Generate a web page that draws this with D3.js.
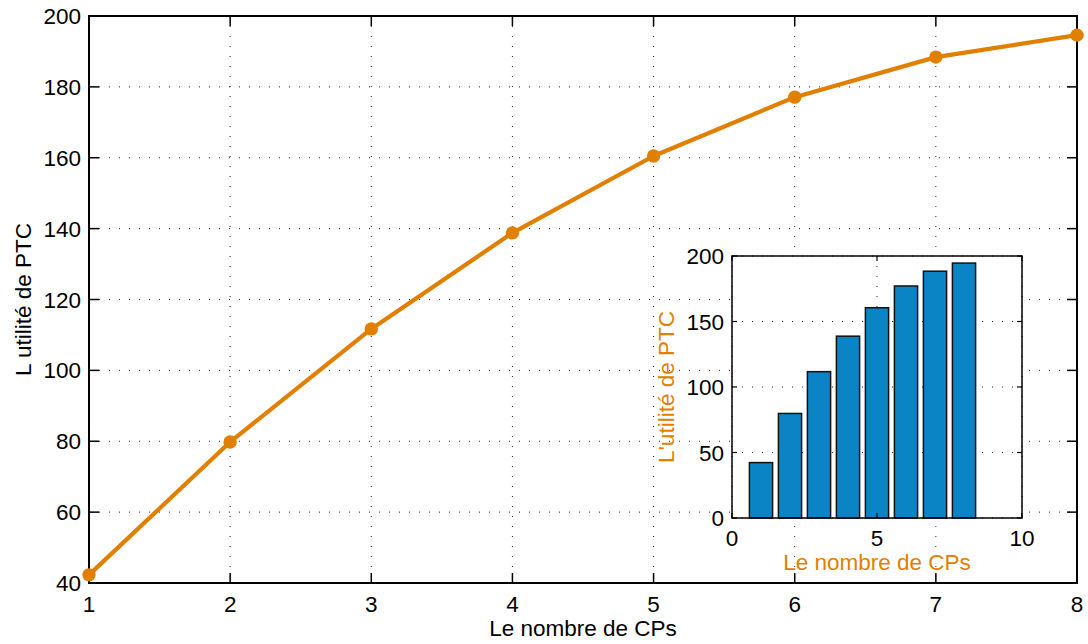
<!DOCTYPE html>
<html>
<head>
<meta charset="utf-8">
<script src="https://cdn.jsdelivr.net/npm/d3@7"></script>
<style>
  html, body { margin: 0; padding: 0; background: #fff; }
  svg text { font-family: "Liberation Sans", Arial, Helvetica, sans-serif; }
</style>
</head>
<body>
<svg id="chart" width="1088" height="644"></svg>
<script>
// Number of CPs and the resulting PTC utility
const cps = [1, 2, 3, 4, 5, 6, 7, 8];
const utility = [42.3, 79.8, 111.7, 138.8, 160.5, 177.1, 188.4, 194.6];

// Tick values
const mainXTicks = [1, 2, 3, 4, 5, 6, 7, 8];
const mainYTicks = [40, 60, 80, 100, 120, 140, 160, 180, 200];
const insetXTicks = [0, 5, 10];
const insetYTicks = [0, 50, 100, 150, 200];

// Labels
const xLabel = "Le nombre de CPs";
const yLabelMain = "L utilité de PTC";
const yLabelInset = "L'utilité de PTC";

const orange = "#e17f00";
const blue = "#0b84c6";
const fontSize = 22.5;

const svg = d3.select("#chart");

// ---------- main axes ----------
const M = { left: 89, right: 1077, top: 16, bottom: 583 };
const x = d3.scaleLinear().domain([1, 8]).range([M.left, M.right]);
const y = d3.scaleLinear().domain([40, 200]).range([M.bottom, M.top]);

const main = svg.append("g");

// dotted grid
main.append("g").selectAll("line").data(mainXTicks).join("line")
  .attr("x1", d => x(d)).attr("x2", d => x(d))
  .attr("y1", M.top).attr("y2", M.bottom)
  .attr("stroke", "#222").attr("stroke-width", 1).attr("stroke-dasharray", "1,9");
main.append("g").selectAll("line").data(mainYTicks).join("line")
  .attr("x1", M.left).attr("x2", M.right)
  .attr("y1", d => y(d)).attr("y2", d => y(d))
  .attr("stroke", "#222").attr("stroke-width", 1).attr("stroke-dasharray", "1,9");

// inward ticks on all four sides
const tl = 10;
const tk = main.append("g").attr("stroke", "#000").attr("stroke-width", 1.5);
mainXTicks.forEach(d => {
  tk.append("line").attr("x1", x(d)).attr("x2", x(d)).attr("y1", M.bottom).attr("y2", M.bottom - tl);
  tk.append("line").attr("x1", x(d)).attr("x2", x(d)).attr("y1", M.top).attr("y2", M.top + tl);
});
mainYTicks.forEach(d => {
  tk.append("line").attr("x1", M.left).attr("x2", M.left + tl).attr("y1", y(d)).attr("y2", y(d));
  tk.append("line").attr("x1", M.right).attr("x2", M.right - tl).attr("y1", y(d)).attr("y2", y(d));
});

// frame
main.append("rect")
  .attr("x", M.left).attr("y", M.top)
  .attr("width", M.right - M.left).attr("height", M.bottom - M.top)
  .attr("fill", "none").attr("stroke", "#000").attr("stroke-width", 2);

// tick labels
main.append("g").selectAll("text").data(mainXTicks).join("text")
  .attr("x", d => x(d)).attr("y", M.bottom + 29)
  .attr("text-anchor", "middle").attr("font-size", fontSize).attr("fill", "#000")
  .text(d => d);
main.append("g").selectAll("text").data(mainYTicks).join("text")
  .attr("x", M.left - 8).attr("y", d => y(d) + 8)
  .attr("text-anchor", "end").attr("font-size", fontSize).attr("fill", "#000")
  .text(d => d);

// axis titles
main.append("text")
  .attr("x", (M.left + M.right) / 2).attr("y", M.bottom + 53)
  .attr("text-anchor", "middle").attr("font-size", fontSize).attr("fill", "#000")
  .text(xLabel);
main.append("text")
  .attr("transform", `translate(${31},${(M.top + M.bottom) / 2}) rotate(-90)`)
  .attr("text-anchor", "middle").attr("font-size", fontSize).attr("fill", "#000")
  .text(yLabelMain);

// line with markers
const pts = cps.map((c, i) => [c, utility[i]]);
main.append("path")
  .datum(pts)
  .attr("d", d3.line().x(d => x(d[0])).y(d => y(d[1])))
  .attr("fill", "none").attr("stroke", orange).attr("stroke-width", 4.2)
  .attr("stroke-linejoin", "round");
main.append("g").selectAll("circle").data(pts).join("circle")
  .attr("cx", d => x(d[0])).attr("cy", d => y(d[1])).attr("r", 6.7)
  .attr("fill", orange);

// ---------- inset bar chart ----------
const I = { left: 732, right: 1022, top: 256, bottom: 518 };
const xi = d3.scaleLinear().domain([0, 10]).range([I.left, I.right]);
const yi = d3.scaleLinear().domain([0, 200]).range([I.bottom, I.top]);

const inset = svg.append("g");
inset.append("rect")
  .attr("x", I.left).attr("y", I.top)
  .attr("width", I.right - I.left).attr("height", I.bottom - I.top)
  .attr("fill", "#fff");

// dotted grid
inset.append("g").selectAll("line").data(insetXTicks).join("line")
  .attr("x1", d => xi(d)).attr("x2", d => xi(d))
  .attr("y1", I.top).attr("y2", I.bottom)
  .attr("stroke", "#222").attr("stroke-width", 1).attr("stroke-dasharray", "1,9");
inset.append("g").selectAll("line").data(insetYTicks).join("line")
  .attr("x1", I.left).attr("x2", I.right)
  .attr("y1", d => yi(d)).attr("y2", d => yi(d))
  .attr("stroke", "#222").attr("stroke-width", 1).attr("stroke-dasharray", "1,9");

// bars
const barW = xi(0.8) - xi(0);
inset.append("g").selectAll("rect").data(pts).join("rect")
  .attr("x", d => xi(d[0]) - barW / 2)
  .attr("y", d => yi(d[1]))
  .attr("width", barW)
  .attr("height", d => yi(0) - yi(d[1]))
  .attr("fill", blue).attr("stroke", "#111").attr("stroke-width", 1.5);

// inward ticks
const itl = 5;
const itk = inset.append("g").attr("stroke", "#000").attr("stroke-width", 1.2);
insetXTicks.forEach(d => {
  itk.append("line").attr("x1", xi(d)).attr("x2", xi(d)).attr("y1", I.bottom).attr("y2", I.bottom - itl);
  itk.append("line").attr("x1", xi(d)).attr("x2", xi(d)).attr("y1", I.top).attr("y2", I.top + itl);
});
insetYTicks.forEach(d => {
  itk.append("line").attr("x1", I.left).attr("x2", I.left + itl).attr("y1", yi(d)).attr("y2", yi(d));
  itk.append("line").attr("x1", I.right).attr("x2", I.right - itl).attr("y1", yi(d)).attr("y2", yi(d));
});

inset.append("rect")
  .attr("x", I.left).attr("y", I.top)
  .attr("width", I.right - I.left).attr("height", I.bottom - I.top)
  .attr("fill", "none").attr("stroke", "#000").attr("stroke-width", 1.5);

// tick labels
inset.append("g").selectAll("text").data(insetXTicks).join("text")
  .attr("x", d => xi(d)).attr("y", I.bottom + 28)
  .attr("text-anchor", "middle").attr("font-size", fontSize).attr("fill", "#000")
  .text(d => d);
inset.append("g").selectAll("text").data(insetYTicks).join("text")
  .attr("x", I.left - 8).attr("y", d => yi(d) + 8)
  .attr("text-anchor", "end").attr("font-size", fontSize).attr("fill", "#000")
  .text(d => d);

// axis titles
inset.append("text")
  .attr("x", (I.left + I.right) / 2).attr("y", I.bottom + 52)
  .attr("text-anchor", "middle").attr("font-size", fontSize).attr("fill", orange)
  .text(xLabel);
inset.append("text")
  .attr("transform", `translate(${674},${(I.top + I.bottom) / 2}) rotate(-90)`)
  .attr("text-anchor", "middle").attr("font-size", fontSize).attr("fill", orange)
  .text(yLabelInset);
</script>
</body>
</html>
